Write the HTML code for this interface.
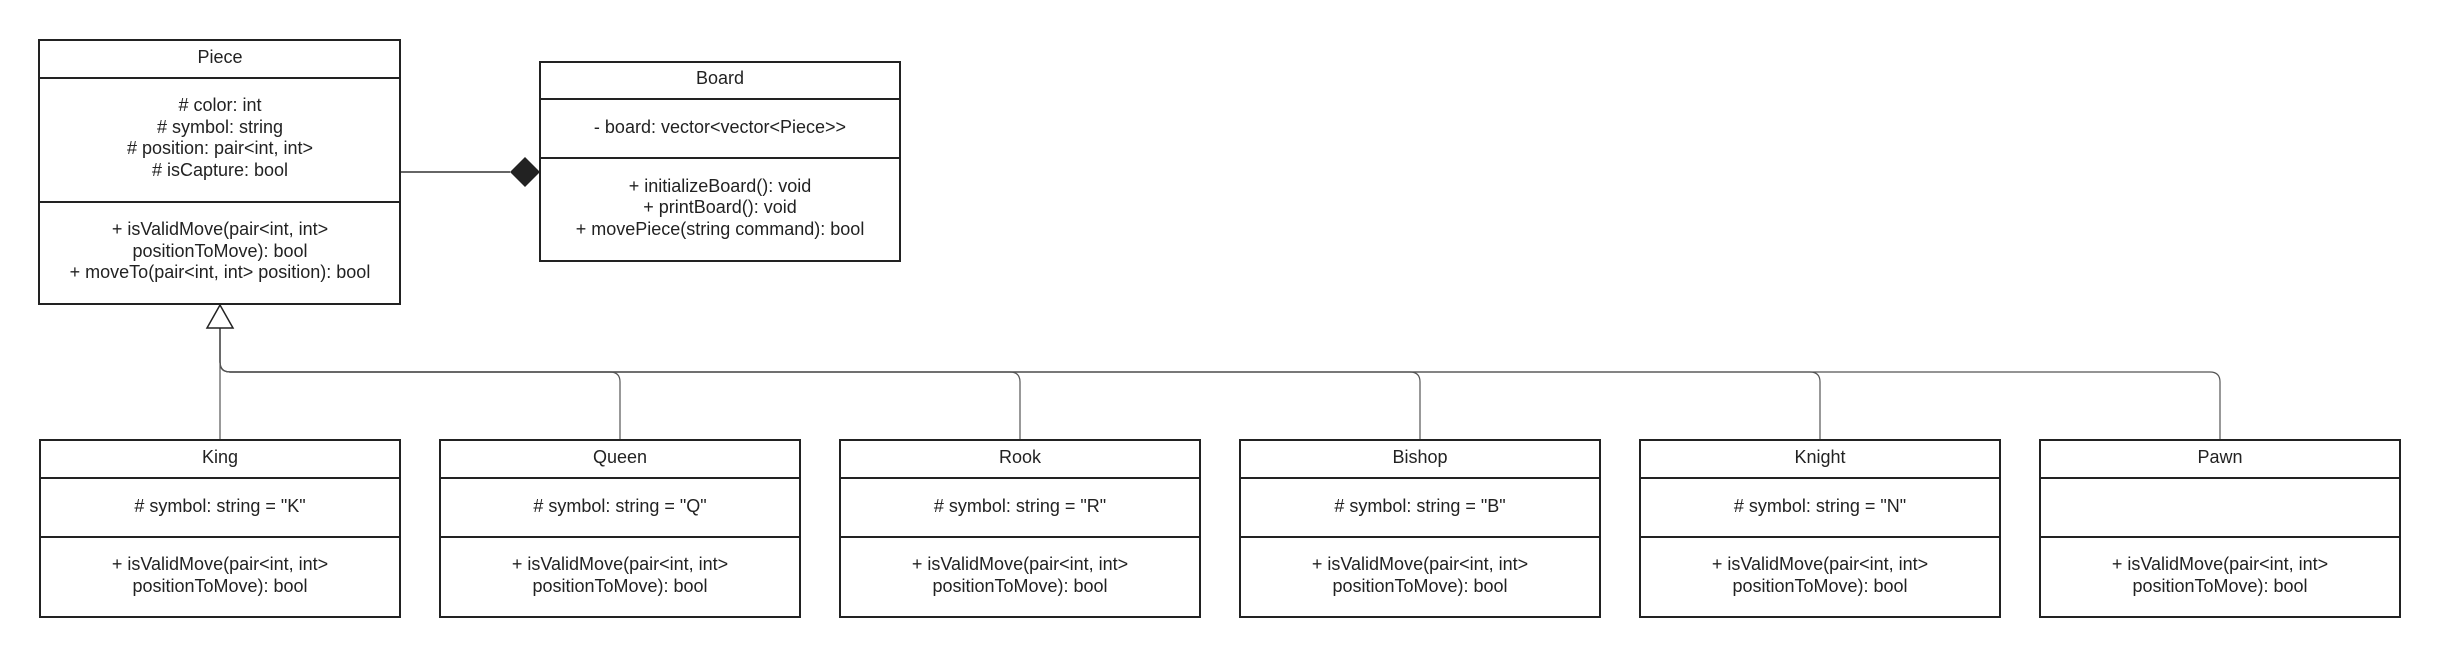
<!DOCTYPE html>
<html><head><meta charset="utf-8"><style>
html,body{margin:0;padding:0;background:#fff;}
svg{display:block;}
text{font-family:"Liberation Sans",Arial,sans-serif;font-size:18px;fill:#222;text-anchor:middle;dominant-baseline:central;}
.box{fill:#fff;stroke:#222;stroke-width:2;}
.ln{stroke:#222;stroke-width:2;}
.c{fill:none;stroke:#555;stroke-width:1.2;}
</style></head><body>
<svg width="2440" height="657" viewBox="0 0 2440 657" xmlns="http://www.w3.org/2000/svg">
<path class="c" d="M220 328 L220 440"/>
<path class="c" d="M220 328 L220 362 Q220 372 230 372 L610 372 Q620 372 620 382 L620 440"/>
<path class="c" d="M220 328 L220 362 Q220 372 230 372 L1010 372 Q1020 372 1020 382 L1020 440"/>
<path class="c" d="M220 328 L220 362 Q220 372 230 372 L1410 372 Q1420 372 1420 382 L1420 440"/>
<path class="c" d="M220 328 L220 362 Q220 372 230 372 L1810 372 Q1820 372 1820 382 L1820 440"/>
<path class="c" d="M220 328 L220 362 Q220 372 230 372 L2210 372 Q2220 372 2220 382 L2220 440"/>
<polygon points="220,305 207,328 233,328" fill="#fff" stroke="#222" stroke-width="1.5"/>
<line x1="400" y1="172" x2="510" y2="172" stroke="#333" stroke-width="1.5"/>
<polygon points="510,172 525,157 540,172 525,187" fill="#222"/>

<rect class="box" x="39" y="40" width="361" height="264"/>
<line class="ln" x1="39" y1="78" x2="400" y2="78"/>
<line class="ln" x1="39" y1="202" x2="400" y2="202"/>
<text x="220" y="57">Piece</text>
<text x="220" y="105"># color: int</text>
<text x="220" y="127"># symbol: string</text>
<text x="220" y="148"># position: pair&lt;int, int&gt;</text>
<text x="220" y="170"># isCapture: bool</text>
<text x="220" y="229">+ isValidMove(pair&lt;int, int&gt;</text>
<text x="220" y="251">positionToMove): bool</text>
<text x="220" y="272">+ moveTo(pair&lt;int, int&gt; position): bool</text>

<rect class="box" x="540" y="62" width="360" height="199"/>
<line class="ln" x1="540" y1="99" x2="900" y2="99"/>
<line class="ln" x1="540" y1="158" x2="900" y2="158"/>
<text x="720" y="78">Board</text>
<text x="720" y="127">- board: vector&lt;vector&lt;Piece&gt;&gt;</text>
<text x="720" y="186">+ initializeBoard(): void</text>
<text x="720" y="207">+ printBoard(): void</text>
<text x="720" y="229">+ movePiece(string command): bool</text>

<g>
<rect class="box" x="40" y="440" width="360" height="177"/><line class="ln" x1="40" y1="478" x2="400" y2="478"/><line class="ln" x1="40" y1="537" x2="400" y2="537"/>
<text x="220" y="457">King</text><text x="220" y="506"># symbol: string = "K"</text><text x="220" y="564">+ isValidMove(pair&lt;int, int&gt;</text><text x="220" y="586">positionToMove): bool</text>
</g>
<g>
<rect class="box" x="440" y="440" width="360" height="177"/><line class="ln" x1="440" y1="478" x2="800" y2="478"/><line class="ln" x1="440" y1="537" x2="800" y2="537"/>
<text x="620" y="457">Queen</text><text x="620" y="506"># symbol: string = "Q"</text><text x="620" y="564">+ isValidMove(pair&lt;int, int&gt;</text><text x="620" y="586">positionToMove): bool</text>
</g>
<g>
<rect class="box" x="840" y="440" width="360" height="177"/><line class="ln" x1="840" y1="478" x2="1200" y2="478"/><line class="ln" x1="840" y1="537" x2="1200" y2="537"/>
<text x="1020" y="457">Rook</text><text x="1020" y="506"># symbol: string = "R"</text><text x="1020" y="564">+ isValidMove(pair&lt;int, int&gt;</text><text x="1020" y="586">positionToMove): bool</text>
</g>
<g>
<rect class="box" x="1240" y="440" width="360" height="177"/><line class="ln" x1="1240" y1="478" x2="1600" y2="478"/><line class="ln" x1="1240" y1="537" x2="1600" y2="537"/>
<text x="1420" y="457">Bishop</text><text x="1420" y="506"># symbol: string = "B"</text><text x="1420" y="564">+ isValidMove(pair&lt;int, int&gt;</text><text x="1420" y="586">positionToMove): bool</text>
</g>
<g>
<rect class="box" x="1640" y="440" width="360" height="177"/><line class="ln" x1="1640" y1="478" x2="2000" y2="478"/><line class="ln" x1="1640" y1="537" x2="2000" y2="537"/>
<text x="1820" y="457">Knight</text><text x="1820" y="506"># symbol: string = "N"</text><text x="1820" y="564">+ isValidMove(pair&lt;int, int&gt;</text><text x="1820" y="586">positionToMove): bool</text>
</g>
<g>
<rect class="box" x="2040" y="440" width="360" height="177"/><line class="ln" x1="2040" y1="478" x2="2400" y2="478"/><line class="ln" x1="2040" y1="537" x2="2400" y2="537"/>
<text x="2220" y="457">Pawn</text><text x="2220" y="564">+ isValidMove(pair&lt;int, int&gt;</text><text x="2220" y="586">positionToMove): bool</text>
</g>
</svg>
</body></html>
